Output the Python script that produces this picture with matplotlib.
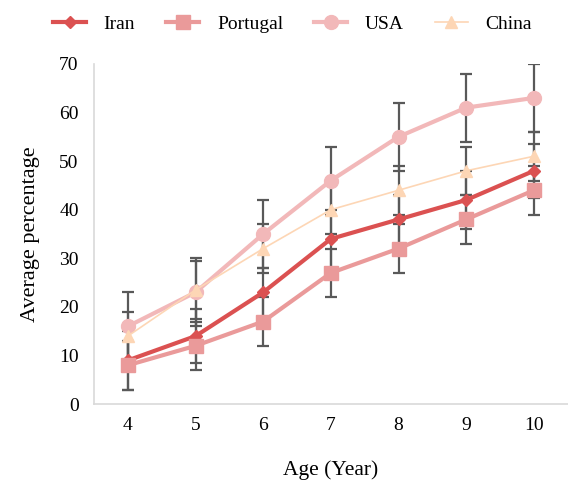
import numpy as np
import matplotlib
matplotlib.use("Agg")
import matplotlib.pyplot as plt

plt.rcParams['font.family'] = ['Liberation Serif', 'DejaVu Serif']

ages = [4, 5, 6, 7, 8, 9, 10]
countries = ["Iran", "Portugal", "USA", "China"]

iran = [9, 14, 23, 34, 38, 42, 48]
portugal = [8, 12, 17, 27, 32, 38, 44]
usa = [16, 23, 35, 46, 55, 61, 63]
china = [14, 23.5, 32, 40, 44, 48, 51]

#error bar half widths
iran_err = [6, 5.5, 5, 6, 5, 6, 5.5]
portugal_err = [5, 5, 5, 5, 5, 5, 5]
usa_err = [7, 7, 7, 7, 7, 7, 7]
china_err = [5, 6, 5, 5, 5, 5, 5]

values = [iran, portugal, usa, china]
errors = [iran_err, portugal_err, usa_err, china_err]
colors = ["#DB5151", "#EA9A9A", "#F2B8B9", "#FDD6B5"]
markers = ["D", "s", "o", "^"]
msizes = [6.5, 10, 10, 9]
lwidths = [3, 3, 3, 1.2]

fig = plt.figure(figsize=(5.68, 4.84), dpi=100)
ax = fig.add_axes([0.1655, 0.165, 0.834, 0.703])

for vals, err in zip(values, errors):
    ax.errorbar(ages, vals, yerr=err, fmt='none', ecolor="#595959",
                elinewidth=1.6, capsize=4.5, capthick=1.6, zorder=2)

for name, vals, c, m, ms, lw in zip(countries, values, colors, markers, msizes, lwidths):
    ax.plot(ages, vals, color=c, marker=m, markersize=ms, linewidth=lw,
            markeredgecolor=c, label=name, zorder=3)

ax.set_xlim(3.5, 10.5)
ax.set_ylim(0, 70)
ax.set_xticks(ages)
ax.set_yticks(np.arange(0, 71, 10))
ax.tick_params(axis='x', length=0, labelsize=14, pad=9)
ax.tick_params(axis='y', length=0, labelsize=14, pad=11)

for s in ["top", "right"]:
    ax.spines[s].set_visible(False)
for s in ["left", "bottom"]:
    ax.spines[s].set_color("#D9D9D9")
    ax.spines[s].set_linewidth(1.2)

ax.set_xlabel("Age (Year)", fontsize=15.5, labelpad=19)
ax.set_ylabel("Average percentage", fontsize=16, labelpad=14)

fig.legend(loc="upper center", bbox_to_anchor=(0.515, 1.005), ncol=4, frameon=False,
           fontsize=14, handlelength=1.7, columnspacing=1.6, handletextpad=0.9)

fig.savefig("out.png", dpi=100)
